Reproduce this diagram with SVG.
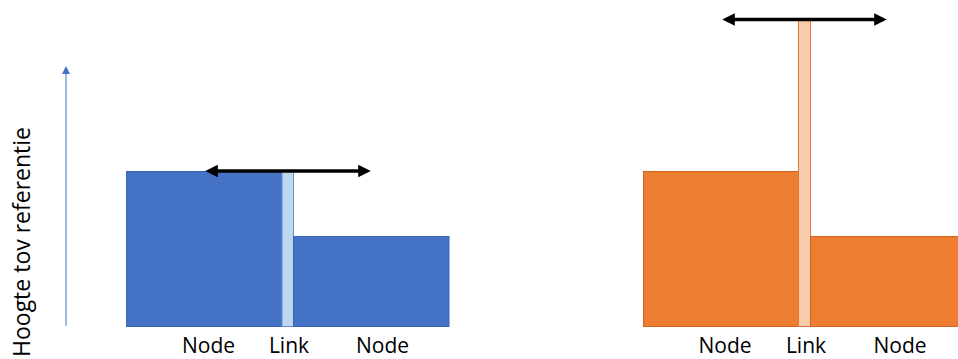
<svg xmlns="http://www.w3.org/2000/svg" width="958" height="359" viewBox="0 0 958 359">
<style>
.lbl{font-family:"Open Sans","Liberation Sans",sans-serif;font-size:21px;fill:#000}
.bn{fill:#4472C4;stroke:#3A65B5;stroke-width:1}
.bl{fill:#BDD7EE;stroke:#6A8FD0;stroke-width:1}
.on{fill:#ED7D31;stroke:#D1631E;stroke-width:1}
.ol{fill:#F8CBAD;stroke:#E07A3A;stroke-width:1}
.dbl{stroke:#000;stroke-width:3.5;fill:none;marker-start:url(#ah);marker-end:url(#ah)}
</style>
<defs>
<marker id="ah" viewBox="0 0 10 10" refX="7" refY="5" markerWidth="4" markerHeight="3.6" orient="auto-start-reverse" markerUnits="strokeWidth">
<path d="M0,0 L10,5 L0,10 Z" fill="#000"/>
</marker>
<marker id="ax" viewBox="0 0 10 10" refX="5" refY="5" markerWidth="8" markerHeight="8" orient="auto" markerUnits="userSpaceOnUse">
<path d="M0,0 L10,5 L0,10 Z" fill="#4472C4"/>
</marker>
</defs>
<g id="axis">
<line x1="66" y1="326" x2="66" y2="70" stroke="#4472C4" stroke-width="1" marker-end="url(#ax)"/>
<text class="lbl" style="font-size:23px" transform="translate(30,242) rotate(-90)" text-anchor="middle">Hoogte tov referentie</text>
</g>
<g id="node-left-1"><rect class="bn" x="126.5" y="171.5" width="155.5" height="155"/></g>
<g id="link-left"><rect class="bl" x="282" y="171.5" width="11.5" height="155"/></g>
<g id="node-left-2"><rect class="bn" x="293.5" y="236.5" width="155.5" height="90"/></g>
<g id="node-right-1"><rect class="on" x="643.5" y="171.5" width="155" height="155"/></g>
<g id="link-right"><rect class="ol" x="798.5" y="20.5" width="12" height="306"/></g>
<g id="node-right-2"><rect class="on" x="810.5" y="236.5" width="148" height="90"/></g>
<g id="connectors">
<line class="dbl" x1="209" y1="171" x2="367" y2="171"/>
<line class="dbl" x1="726" y1="19.5" x2="883" y2="19.5"/>
</g>
<g id="labels">
<text class="lbl" x="208.5" y="353" text-anchor="middle">Node</text>
<text class="lbl" x="289" y="353" text-anchor="middle">Link</text>
<text class="lbl" x="382.5" y="353" text-anchor="middle">Node</text>
<text class="lbl" x="725" y="353" text-anchor="middle">Node</text>
<text class="lbl" x="806" y="353" text-anchor="middle">Link</text>
<text class="lbl" x="900" y="353" text-anchor="middle">Node</text>
</g>
</svg>
